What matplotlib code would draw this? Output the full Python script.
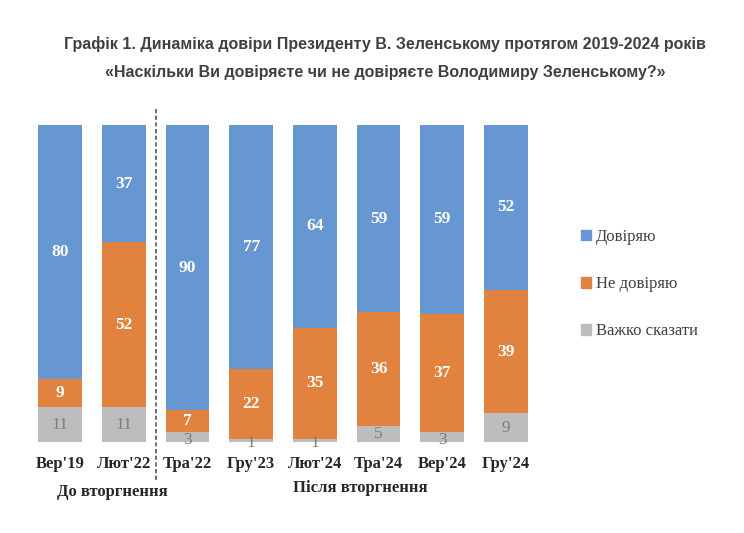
import matplotlib.pyplot as plt
import numpy as np
from matplotlib.patches import Patch

categories = ["Вер'19", "Лют'22", "Тра'22", "Гру'23", "Лют'24", "Тра'24", "Вер'24", "Гру'24"]
trust = [80, 37, 90, 77, 64, 59, 59, 52]
distrust = [9, 52, 7, 22, 35, 36, 37, 39]
hard_to_say = [11, 11, 3, 1, 1, 5, 3, 9]

series_names = ["Довіряю", "Не довіряю", "Важко сказати"]
group_labels = ["До вторгнення", "Після вторгнення"]

title_1 = "Графік 1. Динаміка довіри Президенту В. Зеленському протягом 2019-2024 років"
title_2 = "«Наскільки Ви довіряєте чи не довіряєте Володимиру Зеленському?»"

BLUE = "#6797D2"
ORANGE = "#E2823F"
GREY = "#BDBDBD"
SERIF = ["Liberation Serif", "DejaVu Serif"]
NARROW = ["Liberation Sans Narrow", "Liberation Sans", "DejaVu Sans"]

# 100 % stacked, like the Excel original
tot = np.array(trust) + np.array(distrust) + np.array(hard_to_say)
g = np.array(hard_to_say) / tot * 100
o = np.array(distrust) / tot * 100
b = np.array(trust) / tot * 100

fig = plt.figure(figsize=(7.44, 5.33), dpi=100)
fig.patch.set_facecolor("white")
ax = fig.add_axes([20 / 744, 1 - 442 / 533, 526 / 744, 317 / 533])
ax.set_xlim(-0.63, 7.63)
ax.set_ylim(0, 100)
ax.axis("off")

x = np.arange(len(categories))
w = 0.69
ax.bar(x, g, w, color=GREY)
ax.bar(x, o, w, bottom=g, color=ORANGE)
ax.bar(x, b, w, bottom=g + o, color=BLUE)

for i in x:
    # tiny grey segments: label sits a bit lower, hanging off the bar base
    gy = g[i] / 2 if hard_to_say[i] > 3 else g[i] / 2 - 0.8
    ax.text(i, gy, str(hard_to_say[i]), ha="center", va="center",
            color="#7F7F7F", fontsize=12.5, family=SERIF)
    ax.text(i, g[i] + o[i] / 2, str(distrust[i]), ha="center", va="center",
            color="white", fontsize=12.5, fontweight="bold", family=SERIF)
    ax.text(i, g[i] + o[i] + b[i] / 2, str(trust[i]), ha="center", va="center",
            color="white", fontsize=12.5, fontweight="bold", family=SERIF)
    ax.text(i, -7.0, categories[i], ha="center", va="center",
            color="#262626", fontsize=12, fontweight="bold", family=SERIF)

# separator between pre- and post-invasion
ax.plot([1.5, 1.5], [105.0, -12.3], ls=(0, (2.5, 1.5)), color="#555555",
        lw=1.2, clip_on=False)

ax.text(0.82, -15.9, group_labels[0], ha="center", va="center",
        color="#262626", fontsize=12, fontweight="bold", family=SERIF)
ax.text(4.72, -14.6, group_labels[1], ha="center", va="center",
        color="#262626", fontsize=12, fontweight="bold", family=SERIF)

fig.text(385 / 744, 1 - 44 / 533, title_1, ha="center", va="center",
         color="#404040", fontsize=11.5, fontweight="bold", family=NARROW)
fig.text(385 / 744, 1 - 72 / 533, title_2, ha="center", va="center",
         color="#404040", fontsize=11.5, fontweight="bold", family=NARROW)

handles = [Patch(color=BLUE), Patch(color=ORANGE), Patch(color=GREY)]
fig.legend(handles, series_names, loc="upper left",
           bbox_to_anchor=(566 / 744, 1 - 214 / 533), frameon=False,
           prop={"family": SERIF, "size": 12}, labelcolor="#404040",
           handlelength=0.6, handleheight=0.6, handletextpad=0.3,
           labelspacing=1.87)

fig.savefig("out.png", dpi=100, facecolor="white")
